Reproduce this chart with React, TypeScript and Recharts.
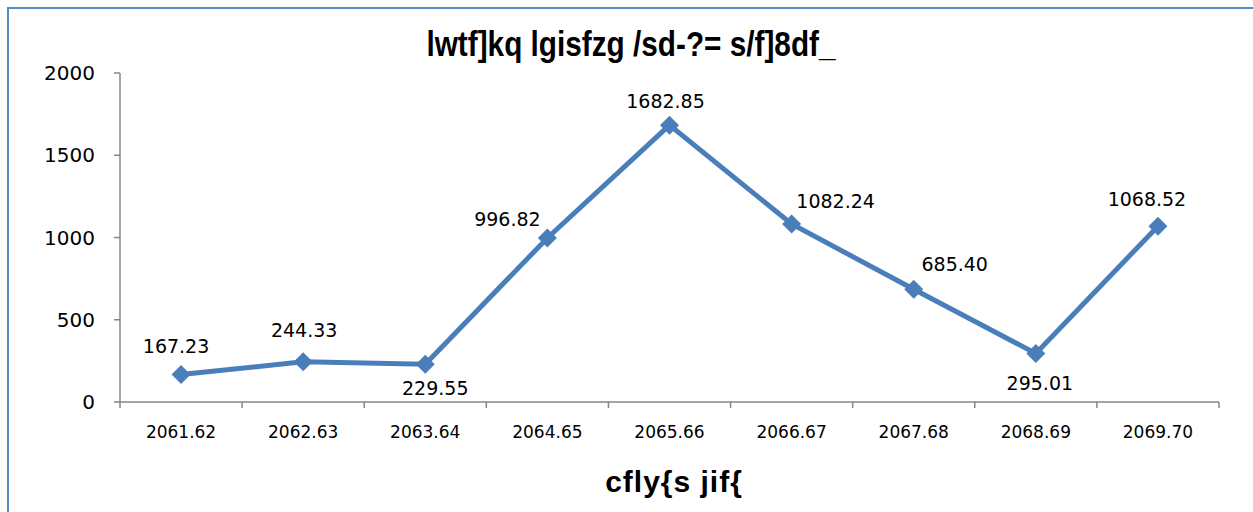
import { LineChart, Line, XAxis, YAxis, LabelList } from 'recharts';

const CATEGORIES = ['2061.62', '2062.63', '2063.64', '2064.65', '2065.66', '2066.67', '2067.68', '2068.69', '2069.70'];
const VALUES = [167.23, 244.33, 229.55, 996.82, 1682.85, 1082.24, 685.4, 295.01, 1068.52];
const Y_TICKS = [0, 500, 1000, 1500, 2000];

const TITLE = 'lwtf]kq lgisfzg /sd-?= s/f]8df_';
const X_TITLE = 'cfly{s jif{';

// manual placement of each data label, like the hand-moved labels in the original
const LABEL_OFFSETS = [
    [-5, -28], [1, -32], [10, 24], [-40, -19], [-4, -24], [44, -23], [41, -25], [4, 30], [-11, -27],
];

const WIDTH = 1244;
const HEIGHT = 503;
const MARGIN = { top: 64, right: 34, bottom: 0, left: 0 };
const Y_AXIS_W = 111;
const PLOT_W = WIDTH - MARGIN.left - MARGIN.right - Y_AXIS_W;
const HALF_BAND = PLOT_W / CATEGORIES.length / 2;

const LINE_COLOR = '#4A7EBB';
const AXIS_COLOR = '#868686';
const FRAME_COLOR = '#5A8AC6';
const NUM_FONT = '"DejaVu Sans", sans-serif';

const data = CATEGORIES.map((c, i) => ({ x: i + 0.5, name: c, value: VALUES[i] }));

const Diamond = ({ cx, cy }: any) => {
    if (cx == null || cy == null) return null;
    const r = 9.5;
    return <polygon points={`${cx},${cy - r} ${cx + r},${cy} ${cx},${cy + r} ${cx - r},${cy}`} fill={LINE_COLOR} />;
};

const XTick = ({ x, y, payload }: any) => {
    const idx = payload.value;
    if (idx >= CATEGORIES.length) return null;
    return (
        <text x={x + HALF_BAND} y={y + 22} textAnchor="middle" dominantBaseline="central"
            fontSize={17} style={{ fontFamily: NUM_FONT, fontSize: 17, fill: '#000' }}>
            {CATEGORIES[idx]}
        </text>
    );
};

const ValueLabel = ({ x, y, value, index }: any) => {
    const [dx, dy] = LABEL_OFFSETS[index] || [0, -25];
    return (
        <text x={x + dx} y={y + dy} textAnchor="middle" dominantBaseline="central"
            style={{ fontFamily: NUM_FONT, fontSize: 19, fill: '#000' }}>
            {Number(value).toFixed(2)}
        </text>
    );
};

export default function App() {
    return (
        <div style={{
            position: 'absolute',
            left: 9,
            top: 9,
            width: WIDTH,
            height: HEIGHT,
            background: '#fff',
        }}>
            <div style={{
                position: 'absolute',
                left: 622,
                top: 15,
                transform: 'translateX(-50%) scaleX(0.85)',
                whiteSpace: 'nowrap',
                fontFamily: '"Liberation Sans", sans-serif',
                fontWeight: 700,
                fontSize: 35,
                lineHeight: '40px',
                color: '#000',
            }}>
                {TITLE}
            </div>
            <LineChart width={WIDTH} height={HEIGHT} data={data} margin={MARGIN}>
                <XAxis
                    dataKey="x"
                    type="number"
                    domain={[0, CATEGORIES.length]}
                    ticks={CATEGORIES.map((_, i) => i).concat([CATEGORIES.length])}
                    tick={<XTick />}
                    tickSize={6}
                    height={110}
                    stroke={AXIS_COLOR}
                    strokeWidth={1.5}
                    interval={0}
                    allowDataOverflow
                />
                <YAxis
                    domain={[0, 2000]}
                    ticks={Y_TICKS}
                    width={Y_AXIS_W}
                    tickSize={6}
                    tickMargin={19}
                    stroke={AXIS_COLOR}
                    strokeWidth={1.5}
                    interval={0}
                    tick={{ fontFamily: NUM_FONT, fontSize: 20, fill: '#000' }}
                />
                <Line
                    dataKey="value"
                    stroke={LINE_COLOR}
                    strokeWidth={5}
                    dot={<Diamond />}
                    activeDot={false}
                    isAnimationActive={false}
                >
                    <LabelList dataKey="value" content={<ValueLabel />} />
                </Line>
            </LineChart>
            <div style={{
                position: 'absolute',
                left: 665,
                top: 456,
                transform: 'translateX(-50%)',
                whiteSpace: 'nowrap',
                fontFamily: '"Liberation Sans", Arial, sans-serif',
                fontWeight: 700,
                fontSize: 30,
                letterSpacing: 1,
                lineHeight: '34px',
                color: '#000',
            }}>
                {X_TITLE}
            </div>
            {/* chart frame, only its left and top edges fall inside the picture */}
            <div style={{
                position: 'absolute',
                left: -2,
                top: -2,
                width: WIDTH + 20,
                height: HEIGHT + 20,
                border: `2px solid ${FRAME_COLOR}`,
                pointerEvents: 'none',
                zIndex: 10,
            }} />
        </div>
    );
}
